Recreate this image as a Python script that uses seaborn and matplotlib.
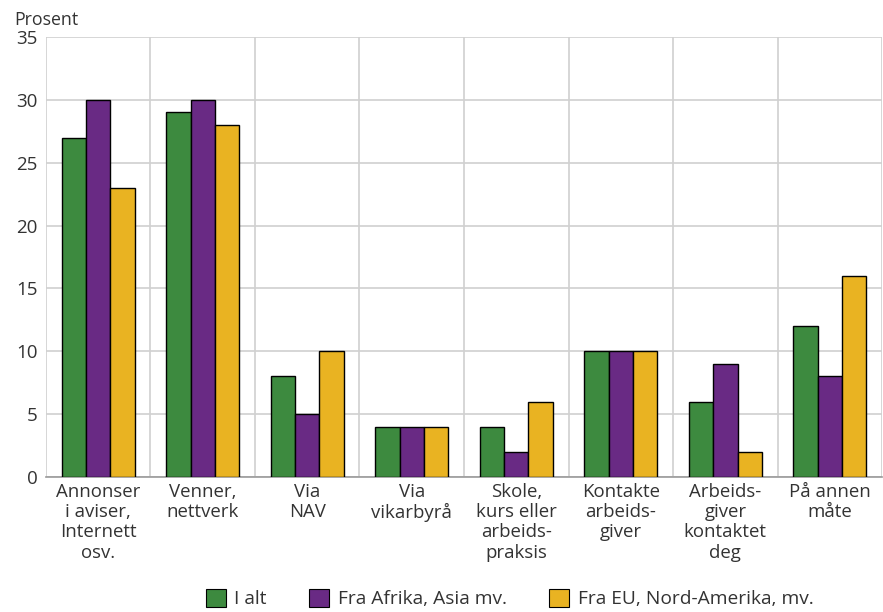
import matplotlib
matplotlib.use("Agg")
import matplotlib.pyplot as plt
import seaborn as sns
import pandas as pd
from matplotlib.patches import Patch

categories = ["Annonser\ni aviser,\nInternett\nosv.", "Venner,\nnettverk", "Via\nNAV", "Via\nvikarbyrå",
              "Skole,\nkurs eller\narbeids-\npraksis", "Kontakte\narbeids-\ngiver", "Arbeids-\ngiver\nkontaktet\ndeg",
              "På annen\nmåte"]
series_names = ["I alt", "Fra Afrika, Asia mv.", "Fra EU, Nord-Amerika, mv."]
i_alt = [27, 29, 8, 4, 4, 10, 6, 12]
afrika_asia = [30, 30, 5, 4, 2, 10, 9, 8]
eu_nordamerika = [23, 28, 10, 4, 6, 10, 2, 16]
yticks = [0, 5, 10, 15, 20, 25, 30, 35]
colors = ["#3d8a3f", "#692a84", "#e9b322"]

sns.set_theme(style="white")
plt.rcParams["font.family"] = ["Open Sans", "DejaVu Sans"]

rows = []
for name, vals in zip(series_names, [i_alt, afrika_asia, eu_nordamerika]):
    for c, v in zip(categories, vals):
        rows.append({"kategori": c, "serie": name, "verdi": v})
df = pd.DataFrame(rows)

fig = plt.figure(figsize=(8.83, 6.12), dpi=100)
ax = fig.add_axes([0.052, 0.2206, 0.947, 0.719])
sns.barplot(data=df, x="kategori", y="verdi", hue="serie", order=categories,
            hue_order=series_names, palette=colors, saturation=1, width=0.7, gap=0,
            edgecolor="black", linewidth=1.0, ax=ax, legend=False, zorder=3)

ax.set_xlim(-0.5, len(categories) - 0.5)
ax.set_ylim(0, 35)
ax.set_yticks(yticks)
ax.set_yticklabels([str(t) for t in yticks], fontsize=13.5, color="#333333")
ax.set_xticks(range(len(categories)))
ax.set_xticklabels(categories, fontsize=13.4, color="#333333", linespacing=1.17)
ax.set_xticks([i - 0.5 for i in range(len(categories) + 1)], minor=True)
ax.tick_params(axis="both", which="both", length=0)
ax.tick_params(axis="x", pad=4)
ax.tick_params(axis="y", pad=6)
ax.set_xlabel("")
ax.set_ylabel("")
ax.grid(axis="y", which="major", color="#d0d0d0", linewidth=1.2, zorder=0)
ax.grid(axis="x", which="minor", color="#d0d0d0", linewidth=1.2, zorder=0)
ax.grid(axis="x", which="major", visible=False)
for s in ["top", "right", "left"]:
    ax.spines[s].set_visible(False)
ax.spines["bottom"].set_color("#999999")
ax.spines["bottom"].set_linewidth(1.2)
ax.set_axisbelow(True)

fig.text(0.016, 0.968, "Prosent", fontsize=12.8, color="#333333", ha="left", va="center")

handles = [Patch(facecolor=c, edgecolor="black", linewidth=0.8) for c in colors]
fig.legend(handles, series_names, loc="center", bbox_to_anchor=(0.577, 0.022), ncol=3,
           frameon=False, fontsize=13.8, handlelength=1.05, handleheight=1.05,
           columnspacing=2.2, handletextpad=0.45, labelcolor="#333333")

fig.savefig("out.png", dpi=100)
